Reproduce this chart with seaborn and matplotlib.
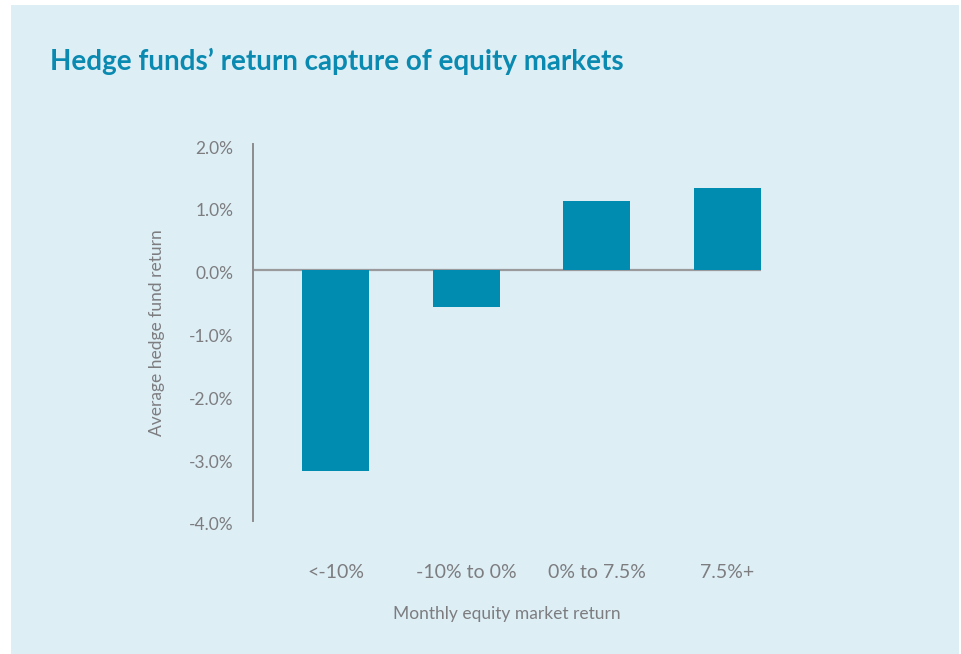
import matplotlib
matplotlib.use("Agg")
import matplotlib.pyplot as plt
import matplotlib.transforms as mtransforms
import seaborn as sns
import pandas as pd
from matplotlib.patches import Rectangle
from matplotlib.ticker import FuncFormatter

categories = ["<-10%", "-10% to 0%", "0% to 7.5%", "7.5%+"]
avg_return = [-3.2, -0.6, 1.1, 1.3]
yticks = [2.0, 1.0, 0.0, -1.0, -2.0, -3.0, -4.0]

sns.set_theme(style="white")
plt.rcParams["font.family"] = ["Lato", "DejaVu Sans"]

BG = "#ddeef5"
BAR = "#008bb0"
GRAY = "#7d7d80"
TITLE = "#0a8ab1"

W, H = 962, 654
fig = plt.figure(figsize=(W / 100, H / 100), dpi=100, facecolor="white")
fig.patches.append(Rectangle((11 / W, 0), (959 - 11) / W, (H - 5) / H,
                             transform=fig.transFigure, facecolor=BG,
                             edgecolor="none", zorder=-10))

left, right, top, bottom = 253, 761, 144, 521
ax = fig.add_axes([left / W, 1 - bottom / H, (right - left) / W, (bottom - top) / H])
ax.set_facecolor("none")

df = pd.DataFrame({"cat": categories, "val": avg_return})
sns.barplot(data=df, x="cat", y="val", color=BAR, saturation=1, width=0.513,
            ax=ax, zorder=2)
for p in ax.patches:
    p.set_edgecolor("none")

ax.axhline(0, color="#9a9a9c", lw=1.6, zorder=1)
ax.set_xlim(-0.631, 3.256)
ax.set_ylim(-4.0, 2.0)
ax.set_yticks(yticks)
ax.yaxis.set_major_formatter(FuncFormatter(lambda v, p: f"{v:.1f}%"))

for s in ["top", "right", "bottom"]:
    ax.spines[s].set_visible(False)
ax.spines["left"].set_color("#8c8c8e")
ax.spines["left"].set_linewidth(1.4)

ax.tick_params(axis="y", length=0, pad=14, labelsize=12.5, labelcolor=GRAY)
ax.tick_params(axis="x", length=0, pad=31, labelsize=14, labelcolor=GRAY)

offset = mtransforms.ScaledTranslation(0, -3 / 100, fig.dpi_scale_trans)
for lab in ax.get_yticklabels():
    lab.set_transform(lab.get_transform() + offset)

ax.set_xlabel("Monthly equity market return", fontsize=12.5, color=GRAY, labelpad=18)
ax.set_ylabel("Average hedge fund return", fontsize=12.5, color=GRAY, labelpad=17)

fig.text(50 / W, 1 - 61 / H, "Hedge funds\u2019 return capture of equity markets",
         fontsize=20, fontweight="bold", color=TITLE, ha="left", va="center")

fig.savefig("out.png", dpi=100, facecolor="white")
